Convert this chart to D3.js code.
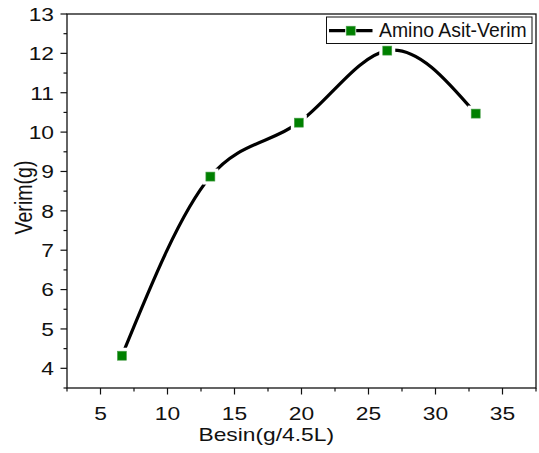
<!DOCTYPE html>
<html><head><meta charset="utf-8">
<script src="https://cdn.jsdelivr.net/npm/d3@7"></script>
<style>html,body{margin:0;padding:0;background:#fff;}svg{display:block;}</style>
</head><body>
<svg id="c" width="539" height="453"></svg>
<script>
const xValues = [6.6, 13.2, 19.8, 26.4, 33];
const yValues = [4.32, 8.87, 10.24, 12.07, 10.47];
const seriesName = "Amino Asit-Verim";
const xTicks = [5, 10, 15, 20, 25, 30, 35];
const yTicks = [4, 5, 6, 7, 8, 9, 10, 11, 12, 13];
const xTitle = "Besin(g/4.5L)";
const yTitle = "Verim(g)";

const svg = d3.select("#c");
const L = 67, R = 536, T = 14, B = 388;
const x = d3.scaleLinear().domain([2.5, 37.5]).range([L, R]);
const y = d3.scaleLinear().domain([3.5, 13]).range([B, T]);
const font = "'Liberation Sans', Arial, sans-serif";
const sx = 1.2, fs = 19;

// frame
svg.append("rect").attr("x", L).attr("y", T).attr("width", R - L).attr("height", B - T)
  .attr("fill", "none").attr("stroke", "#111").attr("stroke-width", 1.3);

// x ticks
const xMinor = d3.range(2.5, 37.6, 5);
svg.append("g").selectAll("line").data(xMinor).join("line")
  .attr("x1", d => x(d)).attr("x2", d => x(d)).attr("y1", B).attr("y2", B + 3.5)
  .attr("stroke", "#111").attr("stroke-width", 1.2);
svg.append("g").selectAll("line").data(xTicks).join("line")
  .attr("x1", d => x(d)).attr("x2", d => x(d)).attr("y1", B).attr("y2", B + 6.5)
  .attr("stroke", "#111").attr("stroke-width", 1.2);
svg.append("g").selectAll("text").data(xTicks).join("text")
  .attr("transform", d => `translate(${x(d)},420) scale(${sx},1)`)
  .attr("text-anchor", "middle").attr("font-family", font).attr("font-size", fs)
  .attr("fill", "#111").text(d => d);

// y ticks
const yMinor = d3.range(3.5, 13.01, 1);
svg.append("g").selectAll("line").data(yMinor).join("line")
  .attr("x1", L - 3.5).attr("x2", L).attr("y1", d => y(d)).attr("y2", d => y(d))
  .attr("stroke", "#111").attr("stroke-width", 1.2);
svg.append("g").selectAll("line").data(yTicks).join("line")
  .attr("x1", L - 6.5).attr("x2", L).attr("y1", d => y(d)).attr("y2", d => y(d))
  .attr("stroke", "#111").attr("stroke-width", 1.2);
svg.append("g").selectAll("text").data(yTicks).join("text")
  .attr("transform", d => `translate(54,${y(d) + 6.8}) scale(${sx},1)`)
  .attr("text-anchor", "end").attr("font-family", font).attr("font-size", fs)
  .attr("fill", "#111").text(d => d);

// titles
svg.append("text").attr("x", 198.5).attr("y", 441)
  .attr("textLength", 135.5).attr("lengthAdjust", "spacingAndGlyphs")
  .attr("font-family", font).attr("font-size", fs).attr("fill", "#111").text(xTitle);
svg.append("text").attr("transform", `translate(31.5,197.5) scale(1.18,1) rotate(-90)`)
  .attr("text-anchor", "middle").attr("font-family", font).attr("font-size", 19.6)
  .attr("fill", "#111").text(yTitle);

// curve
const pts = xValues.map((v, i) => [v, yValues[i]]);
const line = d3.line().x(d => x(d[0])).y(d => y(d[1])).curve(d3.curveNatural);
svg.append("path").attr("d", line(pts)).attr("fill", "none")
  .attr("stroke", "#000").attr("stroke-width", 3.2);

// marker halos and markers
const ms = 9, halo = 16;
svg.append("g").selectAll("rect").data(pts).join("rect")
  .attr("x", d => x(d[0]) - halo / 2).attr("y", d => y(d[1]) - halo / 2)
  .attr("width", halo).attr("height", halo).attr("fill", "#fff");
svg.append("g").selectAll("rect").data(pts).join("rect")
  .attr("x", d => x(d[0]) - ms / 2).attr("y", d => y(d[1]) - ms / 2)
  .attr("width", ms).attr("height", ms).attr("fill", "#008000")
  .attr("stroke", "#4da04d").attr("stroke-width", 0.6);

// legend
const lg = svg.append("g");
lg.append("rect").attr("x", 326.5).attr("y", 17).attr("width", 205.5).attr("height", 26.5)
  .attr("fill", "#fff").attr("stroke", "#111").attr("stroke-width", 1);
lg.append("line").attr("x1", 329).attr("x2", 372.5).attr("y1", 30.7).attr("y2", 30.7)
  .attr("stroke", "#000").attr("stroke-width", 3.2);
lg.append("rect").attr("x", 350.7 - 5.5).attr("y", 30.7 - 5.5).attr("width", 11).attr("height", 11)
  .attr("fill", "#fff");
lg.append("rect").attr("x", 350.7 - ms / 2).attr("y", 30.7 - ms / 2).attr("width", ms).attr("height", ms)
  .attr("fill", "#008000").attr("stroke", "#4da04d").attr("stroke-width", 0.6);
lg.append("text").attr("x", 379).attr("y", 37).attr("font-family", font).attr("font-size", 19.4)
  .attr("fill", "#111").text(seriesName);
</script>
</body></html>
